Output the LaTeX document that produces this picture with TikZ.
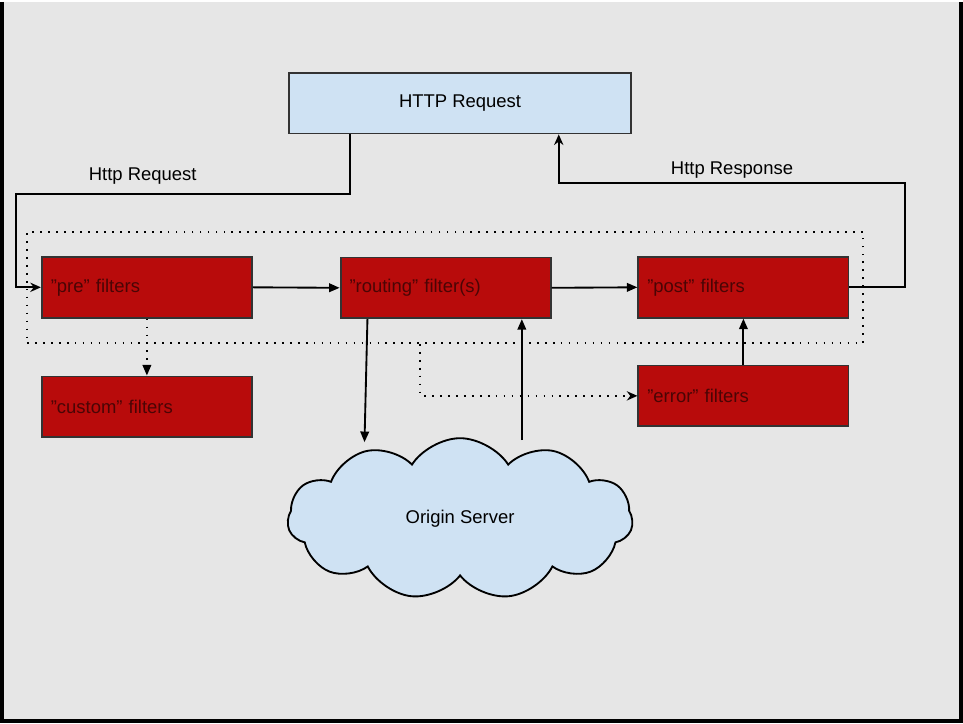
\documentclass[tikz,border=0pt]{standalone}
\usepackage{fontspec}
\setmainfont{Liberation Sans}
\usetikzlibrary{arrows.meta,positioning,fit,shapes.symbols}

\definecolor{bgray}{HTML}{E6E6E6}
\definecolor{reqblue}{HTML}{CFE2F3}
\definecolor{filterred}{HTML}{B80B0B}
\definecolor{filtertext}{HTML}{4A0505}

\tikzset{
	filter/.style={draw=black!80, line width=1.4pt, fill=filterred, text=filtertext, minimum height=45.75pt, text width=144.75pt, inner xsep=6.75pt, align=left},
	request/.style={draw=black!80, line width=1.4pt, fill=reqblue, minimum width=258pt, minimum height=45.75pt},
	server/.style={cloud, cloud puffs=11, cloud puff arc=115, aspect=2.1, draw=black, line width=1.4pt, fill=reqblue, minimum width=260pt, minimum height=121.5pt},
	flow/.style={line width=1.4pt, -{Triangle[length=8pt,width=6.5pt]}},
	hook/.style={line width=1.4pt, -{Stealth[length=8pt,width=7pt]}},
	dotline/.style={line width=1.3pt, dash pattern=on 1.3pt off 4.7pt}
}

\begin{document}
\begin{tikzpicture}[x=0.75pt, y=-0.75pt, every node/.style={font=\fontsize{13.9}{16}\selectfont}]
	\fill [bgray] (0,0) rectangle (963,722);
	\draw [line width=3pt] (0,0) -- (0,722) -- (963,722) -- (963,0);
	\useasboundingbox (0,0) rectangle (963,722);

	\node [request]	(http)		at (460,101.5)	{HTTP Request};
	\node [filter]	(pre)		at (145.5,286.5)	{"pre" filters};
	\node [filter]	(routing)	at (445.5,287)	{"routing" filter(s)};
	\node [filter]	(post)		at (744.5,286.5)	{"post" filters};
	\node [filter]	(custom)	at (145.5,406.5)	{"custom" filters};
	\node [filter]	(error)		at (744.5,395.5)	{"error" filters};
	\node [server]	(origin)	at (460,519)	{Origin Server};
	\node [dotline, draw, fit=(pre)(routing)(post), inner xsep=10.5pt, inner ysep=18pt] (stage) {};

	\coordinate (reqbend)	at (14,193);
	\coordinate (respbend)	at (907,182);
	\coordinate (fetch)	at (364,442);
	\coordinate (reply)	at (522,440);
	\coordinate (errtap)	at ([xshift=-18.75pt]stage.south);

	\draw [hook] ([xshift=46.5pt]http.south west) |- node [above=3.5pt, pos=0.81] {Http Request} (reqbend) |- (pre.west);
	\draw [hook] (post.east) -| (respbend) -| node [above, pos=0.25] {Http Response} ([xshift=204pt]http.south west);
	\draw [flow] (pre.east) -- (routing.west);
	\draw [flow] (routing.east) -- (post.west);
	\draw [flow] ([xshift=-58.9pt]routing.south) -- (fetch);
	\draw [flow] (reply) -- (reply |- routing.south);
	\draw [flow] (error.north) -- (post.south);
	\draw [dotline, -{Triangle[length=8pt,width=6.5pt]}] (pre.south) -- (custom.north);
	\draw [hook, dotline] (errtap) |- (error.west);
\end{tikzpicture}
\end{document}
